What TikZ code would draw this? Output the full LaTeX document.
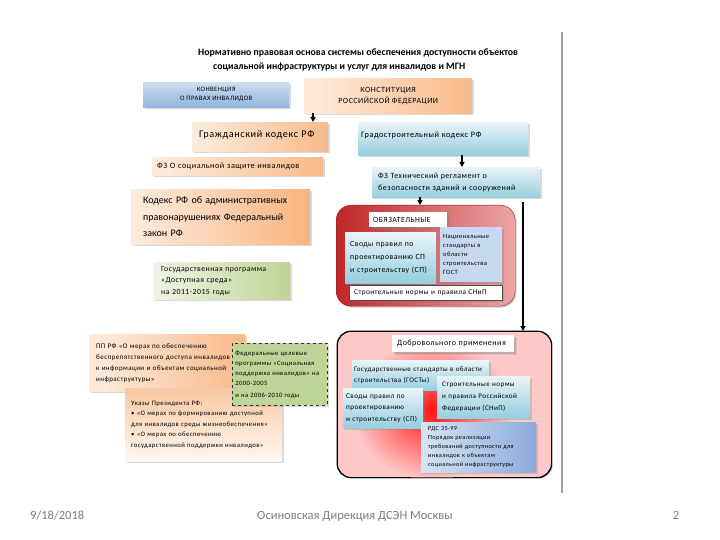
\documentclass[tikz,border=0pt]{standalone}
\usepackage{fontspec}
\setmainfont{Carlito}
\newfontfamily\wf[LetterSpace=6]{Carlito}
\newcommand{\bxf}[2]{\wf\fontsize{#1}{#2}\selectfont}
\usetikzlibrary{shadows,arrows.meta}
\definecolor{peachL}{RGB}{253,236,222}
\definecolor{peachD}{RGB}{249,186,138}
\definecolor{blueL}{RGB}{232,244,248}
\definecolor{blueD}{RGB}{150,206,224}
\definecolor{convL}{RGB}{205,221,240}
\definecolor{convD}{RGB}{146,180,222}
\definecolor{greenL}{RGB}{240,245,228}
\definecolor{greenD}{RGB}{190,212,150}
\definecolor{lavC}{RGB}{198,217,241}
\definecolor{rdsL}{RGB}{214,228,244}
\definecolor{rdsD}{RGB}{140,170,220}
\definecolor{pinkC}{RGB}{255,200,200}
\definecolor{redD}{RGB}{192,38,40}
\definecolor{redL}{RGB}{236,165,165}
\definecolor{grayT}{RGB}{125,125,125}
\definecolor{vline}{RGB}{155,165,170}
\begin{document}
\begin{tikzpicture}[x=1pt,y=-1pt,
  base/.style={anchor=north west, inner ysep=2pt, font=\bxf{7}{8.5},
    drop shadow={opacity=0.3,shadow xshift=1.5pt,shadow yshift=-1.5pt}},
  peach/.style={base, left color=peachL, right color=peachD},
  bluebox/.style={base, top color=blueL, bottom color=blueD},
  convbox/.style={base, top color=convL, bottom color=convD},
  greenbox/.style={base, left color=greenL, right color=greenD},
  label/.style={base, fill=white, drop shadow={opacity=0.2}},
  arr/.style={line width=1.3pt, -{Triangle[length=5pt,width=5pt]}},
  foot/.style={text=grayT, font=\fontsize{12.5}{14}\selectfont, inner sep=0pt}
]
\useasboundingbox (0,0) rectangle (720,540);

% separator line
\draw[vline, line width=2pt] (562,32) -- (562,493);

% title
\node[anchor=north west, inner sep=0pt, align=left, font=\bfseries\fontsize{9.8}{14}\selectfont] (title) at (198,49)
 {Нормативно правовая основа системы обеспечения доступности объектов\\\hspace*{15pt}социальной инфраструктуры и услуг для инвалидов и МГН};

% top row
\node[convbox, minimum width=146pt, minimum height=25pt, align=center, font=\bxf{6.7}{9}] (conv) at (143,82)
 {КОНВЕНЦИЯ\\О ПРАВАХ ИНВАЛИДОВ};
\node[peach, minimum width=168pt, minimum height=35pt, align=center, font=\bxf{8}{11}] (konst) at (304,78)
 {КОНСТИТУЦИЯ\\РОССИЙСКОЙ ФЕДЕРАЦИИ};

\node[peach, minimum width=136pt, minimum height=29pt, inner xsep=7pt, text width=122pt, align=left, text depth=5pt, font=\bxf{10.2}{12}] (gk) at (192,122)
 {Гражданский кодекс РФ};
\node[bluebox, minimum width=170pt, minimum height=33pt, inner xsep=3pt, text width=164pt, align=left, text depth=9pt, font=\bxf{8.3}{10}] (grad) at (358,122)
 {Градостроительный кодекс РФ};

\node[peach, minimum width=171pt, minimum height=18pt, inner xsep=5pt, text width=161pt, align=left, font=\bxf{8.2}{9}] (fzs) at (152,157)
 {ФЗ О социальной защите инвалидов};
\node[bluebox, minimum width=168pt, minimum height=30pt, inner xsep=6pt, text width=156pt, align=left, font=\bxf{8}{12}] (fzt) at (372,167)
 {ФЗ Технический регламент о\\безопасности зданий и сооружений};

\node[peach, right color={rgb,255:red,248;green,180;blue,128}, minimum width=179pt, minimum height=55pt, inner xsep=12pt, text width=155pt, align=left, font=\fontsize{10}{16.5}\selectfont] (koap) at (131,189)
 {Кодекс РФ об административных\\правонарушениях Федеральный\\закон РФ};

% obligatory block
\node[base, left color=redD, right color=redL, draw=redD!70!black, rounded corners=15pt, minimum width=179pt, minimum height=101pt] (obz) at (336,205) {};
\node[label, minimum width=78pt, minimum height=15pt, inner ysep=1pt, inner xsep=4pt, text width=70pt, align=left, font=\bxf{7.8}{9}] (obl) at (369,212) {ОБЯЗАТЕЛЬНЫЕ};
\node[bluebox, minimum width=91pt, minimum height=51pt, inner xsep=5pt, text width=81pt, align=left, font=\bxf{7.8}{13}] (sp1) at (345,232)
 {Своды правил по\\проектированию СП\\и строительству (СП)};
\node[base, fill=lavC, minimum width=62pt, minimum height=55pt, inner xsep=3pt, text width=56pt, align=left, font=\bxf{6.5}{9}] (nat) at (440,227)
 {Национальные\\стандарты в\\области\\строительства\\ГОСТ};
\node[base, fill=white, draw=black!70, minimum width=153pt, minimum height=15pt, inner ysep=1pt, inner xsep=5pt, text width=143pt, align=left, font=\bxf{7.3}{8}] (snip1) at (349,285)
 {Строительные нормы и правила СНиП};

% green programme
\node[greenbox, minimum width=137pt, minimum height=37pt, inner xsep=8pt, text width=121pt, align=left, font=\bxf{7.8}{11.5}] (prog) at (153,262)
 {Государственная программа\\«Доступная среда»\\на 2011-2015 годы};

% decrees
\node[peach, minimum width=156pt, minimum height=57pt, inner xsep=7pt, text width=142pt, align=left, font=\bxf{7}{11}] (pp) at (89,334)
 {ПП РФ «О мерах по обеспечению\\беспрепятственного доступа инвалидов\\к информации и объектам социальной\\инфраструктуры»};
\node[base, top color=peachD!80, bottom color=peachL!40, minimum width=157pt, minimum height=73pt, inner xsep=6pt, text width=145pt, align=left, font=\bxf{6.7}{10.5}] (ukaz) at (125,388)
 {Указы Президента РФ:\\• «О мерах по формированию доступной\\для инвалидов среды жизнеобеспечения»\\• «О мерах по обеспечению\\государственной поддержки инвалидов»};
\node[base, fill=greenD, draw=black!80, dashed, line width=0.8pt, minimum width=95pt, minimum height=62pt, inner xsep=3pt, text width=89pt, align=left, font=\bxf{6.6}{10}] (fcp) at (232,343)
 {Федеральные целевые\\программы «Социальная\\поддержка инвалидов» на\\2000-2005\\[2pt]и на 2006-2010 годы};

% voluntary block
\node[base, fill=pinkC, draw=black, line width=0.8pt, rounded corners=14pt, minimum width=214pt, minimum height=146pt] (dob) at (337,331) {};
\begin{scope}
  \clip[rounded corners=14pt] (dob.north west) rectangle (dob.south east);
  \shade[inner color={rgb,255:red,255;green,20;blue,20}, outer color=pinkC] (432,410) ellipse [x radius=80, y radius=70];
\end{scope}
\draw[black, line width=0.8pt, rounded corners=14pt] (dob.north west) rectangle (dob.south east);
\node[label, minimum width=122pt, minimum height=17pt, inner xsep=5pt, text width=112pt, align=left, font=\bxf{8}{9}] (dobl) at (392,335) {Добровольного применения};
\node[bluebox, minimum width=137pt, minimum height=30pt, inner xsep=2pt, text width=133pt, align=left, font=\bxf{7}{11}] (gost) at (352,360)
 {Государственные стандарты в области\\строительства (ГОСТы)\\[5pt]};
\node[bluebox, minimum width=93pt, minimum height=42pt, inner xsep=5pt, text width=83pt, align=left, font=\bxf{7.1}{12}] (snip2) at (437,376)
 {Строительные нормы\\и правила Российской\\Федерации (СНиП)};
\node[bluebox, minimum width=80pt, minimum height=40pt, inner xsep=3pt, text width=74pt, align=left, font=\bxf{7.2}{11.5}] (sp2) at (343,388)
 {Своды правил по\\проектированию\\и строительству (СП)};
\node[base, left color=rdsL, right color=rdsD, minimum width=115pt, minimum height=50pt, inner xsep=7pt, text width=101pt, align=left, font=\bxf{6.2}{9}] (rds) at (421,422)
 {РДС 35-99\\Порядок реализации\\требований доступности для\\инвалидов к объектам\\социальной инфраструктуры};

% connectors
\draw[arr] ([xshift=9pt]konst.south west) -- ([xshift=9pt]konst.south west |- gk.north);
\draw[arr] ([xshift=104pt]grad.south west) -- ([xshift=104pt]grad.south west |- fzt.north);
\draw[arr] ([xshift=48pt]fzt.south west) -- ([xshift=48pt]fzt.south west |- obz.north);
\draw[arr] ([xshift=151pt,yshift=-5pt]fzt.south west) -- ([xshift=151pt]fzt.south west |- dob.north);

% footer
\node[foot, anchor=base west] (date) at (30,519) {9/18/2018};
\node[foot, anchor=base] (org) at (355,519) {Осиновская Дирекция ДСЭН Москвы};
\node[foot, anchor=base] (page) at (676,519) {2};
\end{tikzpicture}
\end{document}
